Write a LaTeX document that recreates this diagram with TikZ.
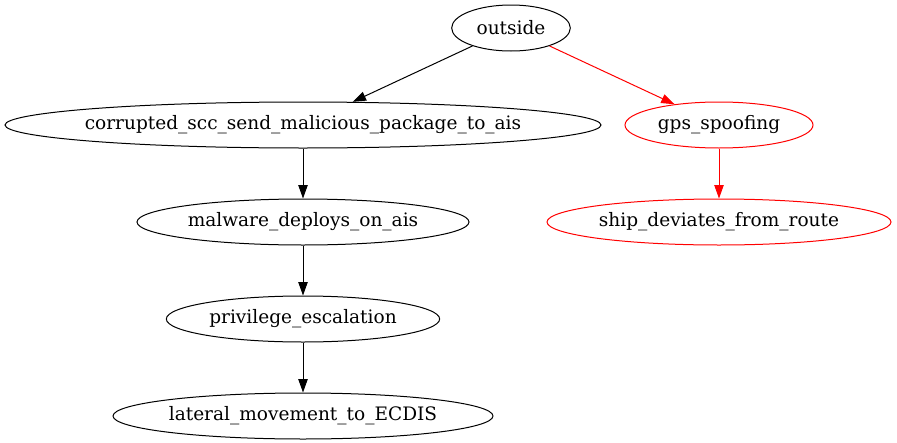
\documentclass[tikz,border=0pt]{standalone}
\usepackage{fontspec}
\setmainfont{DejaVu Serif}
\usetikzlibrary{shapes.geometric, arrows.meta, positioning}
\definecolor{attackred}{RGB}{255, 0, 0}

\tikzset{
  state/.style={draw, ellipse, inner ysep=0pt, inner xsep=-20pt, line width=0.75pt, minimum height=34.5pt, font=\fontsize{13.9}{16}\selectfont},
  edge/.style={-{Triangle[length=10pt, width=7pt]}, line width=0.75pt},
}

\begin{document}
\begin{tikzpicture}[x=0.75pt, y=-0.75pt]
  \useasboundingbox (0,0) rectangle (897,443);

  % --- Wezly ---
  \node[state, minimum width=89pt] (outside) at (511,28) {outside};
  \node[state, minimum width=447pt] (corrupted) at (303,125) {corrupted\_scc\_send\_malicious\_package\_to\_ais};
  \node[state, minimum width=141pt, draw=attackred] (gps) at (719,125) {gps\_spoofing};
  \node[state, minimum width=249pt, below=37.5pt of corrupted] (malware) {malware\_deploys\_on\_ais};
  \node[state, minimum width=258pt, draw=attackred, below=37.5pt of gps] (deviates) {ship\_deviates\_from\_route};
  \node[state, minimum width=205pt, below=37.5pt of malware] (privilege) {privilege\_escalation};
  \node[state, minimum width=285pt, below=37.5pt of privilege] (lateral) {lateral\_movement\_to\_ECDIS};

  % --- Krawedzie ---
  \draw[edge] (outside) -- (corrupted);
  \draw[edge, attackred] (outside) -- (gps);
  \draw[edge] (corrupted) -- (malware);
  \draw[edge, attackred] (gps) -- (deviates);
  \draw[edge] (malware) -- (privilege);
  \draw[edge] (privilege) -- (lateral);
\end{tikzpicture}
\end{document}
